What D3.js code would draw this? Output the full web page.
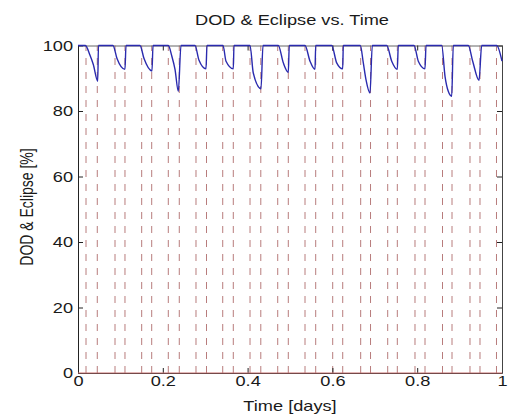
<!DOCTYPE html>
<html><head><meta charset="utf-8">
<script src="https://cdn.jsdelivr.net/npm/d3@7"></script>
<style>body{margin:0;background:#fff}svg{display:block}</style>
</head><body><svg id="c" width="516" height="417"></svg>
<script>
const xTicks = [0, 0.2, 0.4, 0.6, 0.8, 1];
const yTicks = [0, 20, 40, 60, 80, 100];
const titleText = "DOD & Eclipse vs. Time";
const xLabelText = "Time [days]";
const yLabelText = "DOD & Eclipse [%]";

const dodTime = [0,
  0.0175, 0.0283, 0.0361, 0.0465, 0.0483,
  0.0825, 0.0920, 0.1108, 0.1132,
  0.1462, 0.1557, 0.1745, 0.1769,
  0.2130, 0.2210, 0.2288, 0.2366, 0.2429,
  0.2759, 0.2854, 0.3019, 0.3042,
  0.3420, 0.3491, 0.3663, 0.3679,
  0.4057, 0.4134, 0.4316, 0.4363,
  0.4724, 0.4842, 0.4960, 0.4983,
  0.5354, 0.5472, 0.5590, 0.5606,
  0.5983, 0.6101, 0.6243, 0.6257,
  0.6658, 0.6729, 0.6792, 0.6887, 0.6941,
  0.7281, 0.7399, 0.7531, 0.7554,
  0.7925, 0.8026, 0.8184, 0.8208,
  0.8578, 0.8656, 0.8733, 0.8814, 0.8851,
  0.9205, 0.9309, 0.9458, 0.9521,
  0.9875, 1.0];
const dodValue = [100,
  100, 97.0, 94.2, 89.1, 100,
  100, 96.0, 92.7, 100,
  100, 96.0, 92.2, 100,
  100, 96.9, 92.7, 86.0, 100,
  100, 95.5, 92.9, 100,
  100, 95.2, 92.9, 100,
  100, 91.6, 86.8, 100,
  100, 94.7, 91.8, 100,
  100, 95.2, 92.7, 100,
  100, 94.7, 92.9, 100,
  100, 94.7, 89.6, 85.5, 100,
  100, 95.2, 92.7, 100,
  100, 95.2, 92.9, 100,
  100, 90.6, 86.0, 84.5, 100,
  100, 95.2, 89.4, 100,
  100, 95.2];

const eclipseStart = [0.0189, 0.0873, 0.1502, 0.2130, 0.2783, 0.3413, 0.4057, 0.4710,
  0.5354, 0.6007, 0.6667, 0.7304, 0.7948, 0.8597, 0.9245, 0.9870];
const eclipseEnd = [0.0455, 0.1108, 0.1738, 0.2389, 0.3031, 0.3663, 0.4311, 0.4960,
  0.5606, 0.6243, 0.6899, 0.7531, 0.8184, 0.8821, 0.9481];

const SX = 1.3; // horizontal stretch of the original picture's glyphs
const FONT = "'Liberation Sans', Arial, sans-serif";
const TXT = "#1a1a1a";

const svg = d3.select("#c");
svg.append("rect").attr("width", 516).attr("height", 417).attr("fill", "#fff");

const x = d3.scaleLinear().domain([0, 1]).range([78, 502]);
const y = d3.scaleLinear().domain([0, 100]).range([373, 45.5]);

// eclipse markers (vertical dashed lines)
const eclipseEdges = eclipseStart.concat(eclipseEnd);
svg.append("g").selectAll("line").data(eclipseEdges).join("line")
  .attr("x1", d => x(d)).attr("x2", d => x(d))
  .attr("y1", y(0)).attr("y2", y(100))
  .attr("stroke", "#9a4444").attr("stroke-opacity", 0.7).attr("stroke-width", 1)
  .attr("stroke-dasharray", "7,7");

// axes
function styleAxis(g) {
  g.select(".domain").attr("stroke", "#222");
  g.selectAll(".tick line").attr("stroke", "#222");
  g.selectAll("text").attr("font-family", FONT).attr("font-size", 14).attr("fill", TXT);
}
const gx = svg.append("g").attr("transform", `translate(0,${y(0)})`)
  .call(d3.axisBottom(x).tickValues(xTicks).tickSize(-5).tickSizeOuter(0).tickFormat(d => String(d)));
styleAxis(gx);
gx.selectAll("text").attr("y", 12.5).attr("dy", 0).attr("transform", `scale(${SX},1)`);

const gy = svg.append("g").attr("transform", `translate(${x(0)},0)`)
  .call(d3.axisLeft(y).tickValues(yTicks).tickSize(-5).tickSizeOuter(0).tickFormat(d => String(d)));
styleAxis(gy);
gy.selectAll("text").attr("x", 0).attr("dy", "0.35em").attr("transform", `translate(-5,0) scale(${SX},1)`);

const gt = svg.append("g").attr("transform", `translate(0,${y(100)})`)
  .call(d3.axisTop(x).tickValues(xTicks).tickSize(-5).tickSizeOuter(0).tickFormat(""));
styleAxis(gt);
gt.select(".domain").attr("stroke", "#666");

const gr = svg.append("g").attr("transform", `translate(${x(1)},0)`)
  .call(d3.axisRight(y).tickValues(yTicks).tickSize(-5).tickSizeOuter(0).tickFormat(""));
styleAxis(gr);
gr.select(".domain").attr("stroke", "#444");

// eclipse baseline at 0
svg.append("line").attr("x1", x(0)).attr("x2", x(1)).attr("y1", y(0)).attr("y2", y(0))
  .attr("stroke", "#c87070").attr("stroke-width", 1);

// DOD line
const pts = dodTime.map((t, i) => [t, dodValue[i]]);
svg.append("path").datum(pts)
  .attr("d", d3.line().curve(d3.curveMonotoneX).x(d => x(d[0])).y(d => y(d[1])))
  .attr("fill", "none").attr("stroke", "#2a2aae").attr("stroke-width", 1.4)
  .attr("stroke-linejoin", "round");

// title & labels
svg.append("text").attr("transform", `translate(292,25) scale(${SX},1)`)
  .attr("text-anchor", "middle").attr("font-family", FONT).attr("font-size", 14).attr("fill", TXT)
  .text(titleText);
svg.append("text").attr("transform", `translate(290,411) scale(${SX},1)`)
  .attr("text-anchor", "middle").attr("font-family", FONT).attr("font-size", 14).attr("fill", TXT)
  .text(xLabelText);
svg.append("text").attr("transform", `translate(33,207) scale(${SX},1) rotate(-90)`)
  .attr("text-anchor", "middle").attr("font-family", FONT).attr("font-size", 14).attr("fill", TXT)
  .text(yLabelText);
</script></body></html>
